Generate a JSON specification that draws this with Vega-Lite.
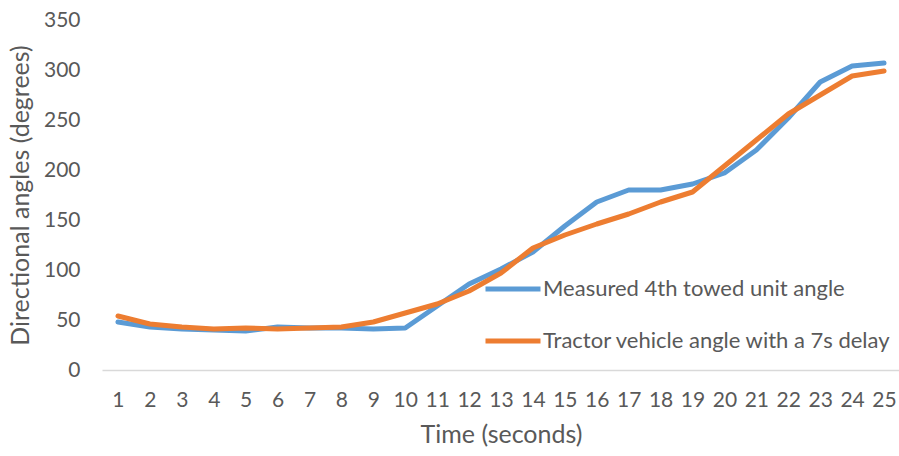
{
  "$schema": "https://vega.github.io/schema/vega-lite/v6.json",
  "width": 798,
  "height": 350,
  "autosize": {"type": "none"},
  "padding": {"left": 102, "top": 20, "right": 0, "bottom": 86},
  "background": "white",
  "config": {
    "view": {"stroke": null},
    "font": "Lato",
    "axis": {"labelColor": "#595959", "titleColor": "#595959", "labelFont": "Lato", "titleFont": "Lato", "titleFontWeight": "normal", "grid": false, "ticks": false}
  },
  "data": {
    "values": [
      {"t": 1, "series": "Measured 4th towed unit angle", "angle": 48},
      {"t": 2, "series": "Measured 4th towed unit angle", "angle": 43},
      {"t": 3, "series": "Measured 4th towed unit angle", "angle": 41},
      {"t": 4, "series": "Measured 4th towed unit angle", "angle": 40},
      {"t": 5, "series": "Measured 4th towed unit angle", "angle": 39},
      {"t": 6, "series": "Measured 4th towed unit angle", "angle": 43},
      {"t": 7, "series": "Measured 4th towed unit angle", "angle": 42},
      {"t": 8, "series": "Measured 4th towed unit angle", "angle": 42},
      {"t": 9, "series": "Measured 4th towed unit angle", "angle": 41},
      {"t": 10, "series": "Measured 4th towed unit angle", "angle": 42},
      {"t": 11, "series": "Measured 4th towed unit angle", "angle": 64},
      {"t": 12, "series": "Measured 4th towed unit angle", "angle": 86},
      {"t": 13, "series": "Measured 4th towed unit angle", "angle": 101},
      {"t": 14, "series": "Measured 4th towed unit angle", "angle": 118},
      {"t": 15, "series": "Measured 4th towed unit angle", "angle": 144},
      {"t": 16, "series": "Measured 4th towed unit angle", "angle": 168},
      {"t": 17, "series": "Measured 4th towed unit angle", "angle": 180},
      {"t": 18, "series": "Measured 4th towed unit angle", "angle": 180},
      {"t": 19, "series": "Measured 4th towed unit angle", "angle": 186},
      {"t": 20, "series": "Measured 4th towed unit angle", "angle": 197},
      {"t": 21, "series": "Measured 4th towed unit angle", "angle": 220},
      {"t": 22, "series": "Measured 4th towed unit angle", "angle": 252},
      {"t": 23, "series": "Measured 4th towed unit angle", "angle": 288},
      {"t": 24, "series": "Measured 4th towed unit angle", "angle": 304},
      {"t": 25, "series": "Measured 4th towed unit angle", "angle": 307},
      {"t": 1, "series": "Tractor vehicle angle with a 7s delay", "angle": 54},
      {"t": 2, "series": "Tractor vehicle angle with a 7s delay", "angle": 46},
      {"t": 3, "series": "Tractor vehicle angle with a 7s delay", "angle": 43},
      {"t": 4, "series": "Tractor vehicle angle with a 7s delay", "angle": 41},
      {"t": 5, "series": "Tractor vehicle angle with a 7s delay", "angle": 42},
      {"t": 6, "series": "Tractor vehicle angle with a 7s delay", "angle": 41},
      {"t": 7, "series": "Tractor vehicle angle with a 7s delay", "angle": 42},
      {"t": 8, "series": "Tractor vehicle angle with a 7s delay", "angle": 43},
      {"t": 9, "series": "Tractor vehicle angle with a 7s delay", "angle": 48},
      {"t": 10, "series": "Tractor vehicle angle with a 7s delay", "angle": 57},
      {"t": 11, "series": "Tractor vehicle angle with a 7s delay", "angle": 66},
      {"t": 12, "series": "Tractor vehicle angle with a 7s delay", "angle": 79},
      {"t": 13, "series": "Tractor vehicle angle with a 7s delay", "angle": 97},
      {"t": 14, "series": "Tractor vehicle angle with a 7s delay", "angle": 122},
      {"t": 15, "series": "Tractor vehicle angle with a 7s delay", "angle": 135},
      {"t": 16, "series": "Tractor vehicle angle with a 7s delay", "angle": 146},
      {"t": 17, "series": "Tractor vehicle angle with a 7s delay", "angle": 156},
      {"t": 18, "series": "Tractor vehicle angle with a 7s delay", "angle": 168},
      {"t": 19, "series": "Tractor vehicle angle with a 7s delay", "angle": 178},
      {"t": 20, "series": "Tractor vehicle angle with a 7s delay", "angle": 204},
      {"t": 21, "series": "Tractor vehicle angle with a 7s delay", "angle": 230},
      {"t": 22, "series": "Tractor vehicle angle with a 7s delay", "angle": 256},
      {"t": 23, "series": "Tractor vehicle angle with a 7s delay", "angle": 275},
      {"t": 24, "series": "Tractor vehicle angle with a 7s delay", "angle": 294},
      {"t": 25, "series": "Tractor vehicle angle with a 7s delay", "angle": 299}
    ]
  },
  "mark": {"type": "line", "strokeWidth": 5, "strokeCap": "round", "strokeJoin": "round"},
  "encoding": {
    "x": {
      "field": "t", "type": "ordinal",
      "scale": {"type": "point", "padding": 0.5},
      "axis": {"title": "Time (seconds)", "labelAngle": 0, "labelFontSize": 21, "titleFontSize": 25, "labelPadding": 19, "titlePadding": 12, "domainColor": "#d9d9d9", "domainWidth": 1.5}
    },
    "y": {
      "field": "angle", "type": "quantitative",
      "scale": {"domain": [0, 350]},
      "axis": {"title": "Directional angles (degrees)", "values": [0, 50, 100, 150, 200, 250, 300, 350], "domain": false, "labelFontSize": 21, "titleFontSize": 25, "labelPadding": 22, "titlePadding": 10}
    },
    "color": {
      "field": "series", "type": "nominal",
      "scale": {"domain": ["Measured 4th towed unit angle", "Tractor vehicle angle with a 7s delay"], "range": ["#5B9BD5", "#ED7D31"]},
      "legend": {"title": null, "orient": "none", "legendX": 381, "legendY": 239, "symbolType": "stroke", "symbolStrokeWidth": 5, "symbolSize": 3025, "labelFontSize": 22, "labelColor": "#595959", "labelFont": "Lato", "labelOffset": 0, "rowPadding": 11, "labelLimit": 500}
    }
  }
}
